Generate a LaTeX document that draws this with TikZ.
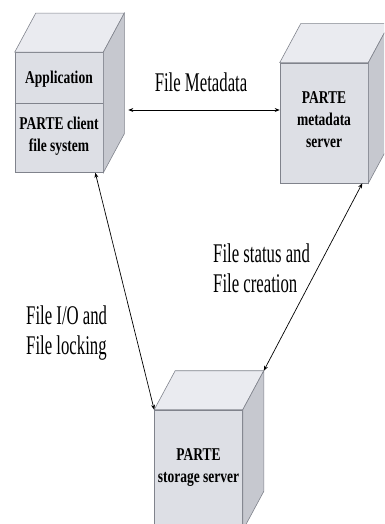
\documentclass[tikz,border=0pt]{standalone}
\usepackage{fontspec}
\newfontfamily\labelfont[FakeStretch=0.62]{Liberation Serif}
\newfontfamily\boxfont[FakeStretch=0.75]{Liberation Serif}
\usetikzlibrary{arrows.meta,calc}
\definecolor{frontgray}{RGB}{221,223,229}
\definecolor{topgray}{RGB}{234,235,240}
\definecolor{sidegray}{RGB}{198,200,207}
\definecolor{edgegray}{RGB}{128,131,140}
\tikzset{
    face/.style={draw=edgegray, line width=0.6pt},
    front/.style={face, fill=frontgray, minimum width=88pt, minimum height=120pt, inner sep=0pt},
    boxtext/.style={font=\boxfont\bfseries\fontsize{18}{22}\selectfont, align=center, inner sep=0pt},
    linklabel/.style={font=\labelfont\fontsize{27}{30}\selectfont, align=left, inner sep=0pt},
    link/.style={{Stealth[length=5pt,width=4pt]}-{Stealth[length=5pt,width=4pt]}, line width=0.7pt}
}
\newcommand\cubeback[1]{
    \fill[face, fill=topgray] (#1.north west) -- ($(#1.north west)+(21,-39)$)
        -- ($(#1.north east)+(21,-39)$) -- (#1.north east) -- cycle;
    \fill[face, fill=sidegray] (#1.north east) -- ($(#1.north east)+(21,-39)$)
        -- ($(#1.south east)+(21,-39)$) -- (#1.south east) -- cycle;
}
\begin{document}
\begin{tikzpicture}[x=1pt, y=-1pt]
    \useasboundingbox (0,0) rectangle (384,524);
    \clip (0,0) rectangle (384,524);
    \node[front] (client) at (59,112.5) {};
    \cubeback{client}
    \draw[face] (client.west |- 0,103) -- (client.east |- 0,103);
    \node[boxtext] (app) at (59,79) {Application};
    \node[boxtext] (clientfs) at (59,136) {PARTE client\\file system};
    \node[front] (meta) at (324,123) {};
    \cubeback{meta}
    \node[boxtext] (metatext) at (324,120) {PARTE\\metadata\\server};
    \node[front] (store) at (198.5,470) {};
    \cubeback{store}
    \node[boxtext] (storetext) at (198.5,468) {PARTE\\storage server};
    \coordinate (clientside) at ($(client.east)+(25,-2.5)$);
    \coordinate (clientfoot) at ($(client.south east)+(-8,0)$);
    \coordinate (metafoot) at ($(meta.south east)+(-6,0)$);
    \coordinate (storetop) at ($(store.north east)+(21,-39)$);
    \draw[link] (clientside) -- (clientside -| meta.west);
    \draw[link] (clientfoot) -- (store.north west);
    \draw[link] (metafoot) -- (storetop);
    \node[linklabel] (metalabel) at (201,82) {File Metadata};
    \node[linklabel, anchor=west] (statuslabel) at (213,268) {File status and\\File creation};
    \node[linklabel, anchor=west] (iolabel) at (26,333) {File I/O and\\File locking};
\end{tikzpicture}
\end{document}
